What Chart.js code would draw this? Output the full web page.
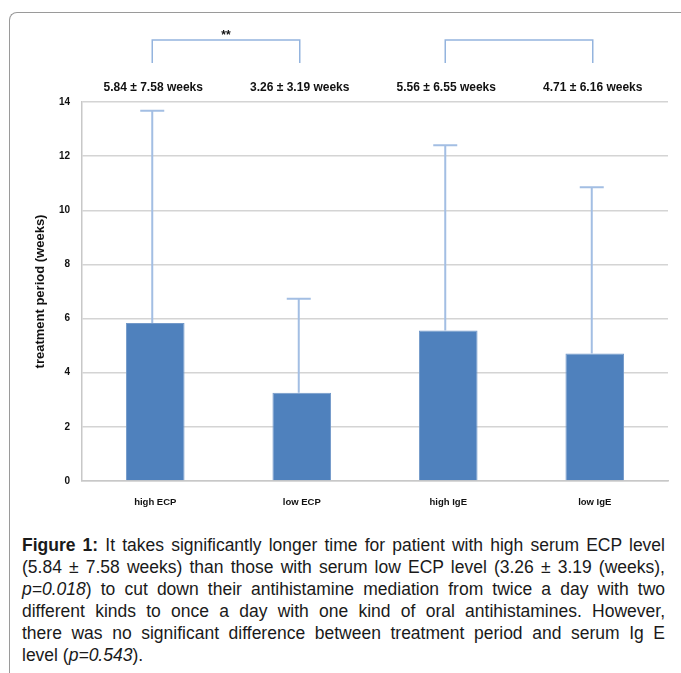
<!DOCTYPE html>
<html>
<head>
<meta charset="utf-8">
<script src="https://cdn.jsdelivr.net/npm/chart.js@4.4.1/dist/chart.umd.min.js"></script>
<style>
  html, body { margin: 0; padding: 0; background: #fff; }
  body { width: 681px; height: 673px; position: relative; overflow: hidden; }
  #frame {
    position: absolute; left: 9px; top: 12px; width: 720px; height: 720px;
    border-left: 1px solid #9a9a9a; border-top: 1px solid #9a9a9a;
    border-top-left-radius: 8px; box-sizing: border-box;
  }
  #wrap { position: absolute; left: 0; top: 0; width: 681px; height: 520px; }
  #caption {
    position: absolute; left: 22px; top: 534px; width: 643px;
    font-family: "Liberation Sans", Arial, sans-serif; font-size: 17.5px; color: #1a1a1a;
  }
  #caption div { height: 22px; line-height: 22px; text-align: justify; text-align-last: justify; white-space: nowrap; }
  #caption div.last { text-align-last: left; }
</style>
</head>
<body>
<div id="frame"></div>
<div id="wrap"><canvas id="chart" width="681" height="520"></canvas></div>
<div id="caption">
  <div><b>Figure 1:</b> It takes significantly longer time for patient with high serum ECP level</div>
  <div>(5.84 ± 7.58 weeks) than those with serum low ECP level (3.26 ± 3.19 (weeks),</div>
  <div><i>p=0.018</i>) to cut down their antihistamine mediation from twice a day with two</div>
  <div>different kinds to once a day with one kind of oral antihistamines. However,</div>
  <div>there was no significant difference between treatment period and serum Ig E</div>
  <div class="last">level (<i>p=0.543</i>).</div>
</div>
<script>
'use strict';

// data
var categories = ['high ECP', 'low ECP', 'high IgE', 'low IgE'];
var means = [5.84, 3.26, 5.56, 4.71];
var errUp = [7.84, 3.47, 6.84, 6.14];   // drawn error bar lengths (weeks)
var summaryLabels = ['5.84 ± 7.58 weeks', '3.26 ± 3.19 weeks', '5.56 ± 6.55 weeks', '4.71 ± 6.16 weeks'];
var brackets = [[0, 1, '**'], [2, 3, '']];
var yTicks = [0, 2, 4, 6, 8, 10, 12, 14];

var chartFont = '"Liberation Sans", Arial, sans-serif';

// error bars on top of each bar
var errorBars = {
    id: 'errorBars',
    afterDatasetsDraw: function(chart) {
        var ctx = chart.ctx;
        var y = chart.scales.y;
        var meta = chart.getDatasetMeta(0);
        ctx.save();
        ctx.strokeStyle = '#a3bee3';
        ctx.lineWidth = 2;
        meta.data.forEach(function(bar, i) {
            var top = y.getPixelForValue(means[i] + errUp[i]);
            ctx.beginPath();
            ctx.moveTo(bar.x - 3, bar.y);
            ctx.lineTo(bar.x - 3, top);
            ctx.moveTo(bar.x - 15, top);
            ctx.lineTo(bar.x + 9, top);
            ctx.stroke();
        });
        ctx.restore();
    }
};

// summary text and significance brackets above the plot
var annotations = {
    id: 'annotations',
    afterDraw: function(chart) {
        var ctx = chart.ctx;
        var x = chart.scales.x;
        ctx.save();
        ctx.fillStyle = '#111';
        ctx.font = 'bold 12px ' + chartFont;
        ctx.textAlign = 'center';
        ctx.textBaseline = 'middle';
        summaryLabels.forEach(function(txt, i) {
            ctx.fillText(txt, x.getPixelForValue(i) - 2, 88);
        });
        ctx.strokeStyle = '#94b4de';
        ctx.lineWidth = 1.5;
        brackets.forEach(function(b) {
            var x0 = x.getPixelForValue(b[0]) - 3;
            var x1 = x.getPixelForValue(b[1]) - 2;
            ctx.beginPath();
            ctx.moveTo(x0, 63);
            ctx.lineTo(x0, 40);
            ctx.lineTo(x1, 40);
            ctx.lineTo(x1, 63);
            ctx.stroke();
            if (b[2]) {
                ctx.font = 'bold 12px ' + chartFont;
                ctx.fillText(b[2], (x0 + x1) / 2, 36);
            }
        });
        ctx.restore();
    }
};

chart = new Chart(document.getElementById('chart'), {
    type: 'bar',
    data: {
        labels: categories,
        datasets: [{
            data: means,
            backgroundColor: '#4f81bd',
            borderColor: '#7399c9',
            borderWidth: 1,
            categoryPercentage: 0.8,
            barPercentage: 0.5
        }]
    },
    options: {
        responsive: false,
        animation: false,
        layout: { padding: { left: 0, right: 13, top: 102, bottom: 0 } },
        plugins: { legend: { display: false }, tooltip: { enabled: false } },
        scales: {
            x: {
                grid: { display: false, drawTicks: false },
                border: { color: '#c8c8c8', width: 1.5 },
                ticks: { color: '#111', padding: 16, font: { family: chartFont, size: 9.5, weight: 'bold' } },
                afterFit: function(s) { s.height = 39; }
            },
            y: {
                min: 0, max: 14,
                afterBuildTicks: function(s) { s.ticks = yTicks.map(function(v) { return { value: v }; }); },
                grid: { color: '#d4d4d4', lineWidth: 1.5, drawTicks: false },
                border: { color: '#c8c8c8', width: 1.5 },
                ticks: { color: '#111', padding: 12, font: { family: chartFont, size: 10, weight: 'bold' } },
                title: {
                    display: true, text: 'treatment period (weeks)', color: '#111',
                    font: { family: chartFont, size: 13, weight: 'bold' },
                    padding: { top: 33, bottom: 0 }
                },
                afterFit: function(s) { s.width = 82; }
            }
        }
    },
    plugins: [errorBars, annotations]
});
var chart;
</script>
</body>
</html>
